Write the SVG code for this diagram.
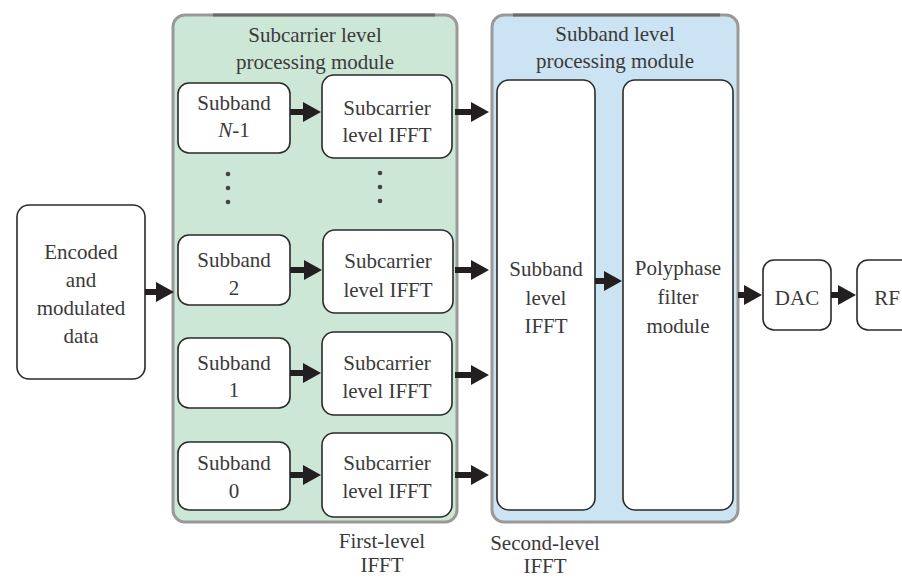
<svg xmlns="http://www.w3.org/2000/svg" width="902" height="578" viewBox="0 0 902 578">
<defs>
<marker id="ah" viewBox="0 0 18 20" refX="4" refY="10" markerWidth="18" markerHeight="20" markerUnits="userSpaceOnUse" orient="auto">
<path d="M0,0 L18,10 L0,20 z" fill="#231f20"/>
</marker>
</defs>
<style>
text{font-family:"Liberation Serif",serif;font-size:21px;fill:#3a3a3a;text-anchor:middle}
.box{fill:#fff;stroke:#2a2a2a;stroke-width:1.6}
.panel{stroke:#999;stroke-width:3}
.strip{stroke:#6a6a6a;stroke-width:3}
.arr{stroke:#231f20;stroke-width:6;fill:none;marker-end:url(#ah)}
.dot{fill:#444}
</style>
<rect width="902" height="578" fill="#fff"/>

<g id="panel-subcarrier">
<rect class="panel" x="173" y="15" width="284" height="507" rx="12" fill="#cde7d7"/>
<line class="strip" x1="213" y1="15" x2="435" y2="15"/>
<text x="315" y="42">Subcarrier level</text>
<text x="315" y="69">processing module</text>
</g>
<g id="panel-subband">
<rect class="panel" x="492" y="15" width="246" height="507" rx="12" fill="#cce3f3"/>
<line class="strip" x1="513" y1="15" x2="720" y2="15"/>
<text x="615" y="41">Subband level</text>
<text x="615" y="68">processing module</text>
</g>

<g id="encoded">
<rect class="box" x="17" y="205" width="128" height="174" rx="12"/>
<text x="81" y="259">Encoded</text>
<text x="81" y="287">and</text>
<text x="81" y="315">modulated</text>
<text x="81" y="343">data</text>
</g>

<g id="subband-n1">
<rect class="box" x="178" y="83" width="112" height="70" rx="11"/>
<text x="234" y="110">Subband</text>
<text x="234" y="137"><tspan font-style="italic">N</tspan>-1</text>
</g>
<g id="ifft-n1">
<rect class="box" x="322" y="75" width="130" height="83" rx="12"/>
<text x="387" y="115">Subcarrier</text>
<text x="387" y="142">level IFFT</text>
</g>

<g id="dots">
<circle class="dot" cx="228" cy="174" r="2.3"/>
<circle class="dot" cx="228" cy="188" r="2.3"/>
<circle class="dot" cx="228" cy="202" r="2.3"/>
<circle class="dot" cx="380" cy="173" r="2.3"/>
<circle class="dot" cx="380" cy="187" r="2.3"/>
<circle class="dot" cx="380" cy="201" r="2.3"/>
</g>

<g id="subband-2">
<rect class="box" x="178" y="235" width="112" height="70" rx="11"/>
<text x="234" y="267">Subband</text>
<text x="234" y="295">2</text>
</g>
<g id="ifft-2">
<rect class="box" x="323" y="230" width="130" height="83" rx="12"/>
<text x="388" y="268">Subcarrier</text>
<text x="388" y="297">level IFFT</text>
</g>

<g id="subband-1">
<rect class="box" x="178" y="338" width="112" height="70" rx="11"/>
<text x="234" y="370">Subband</text>
<text x="234" y="397">1</text>
</g>
<g id="ifft-1">
<rect class="box" x="322" y="332" width="130" height="83" rx="12"/>
<text x="387" y="370">Subcarrier</text>
<text x="387" y="398">level IFFT</text>
</g>

<g id="subband-0">
<rect class="box" x="178" y="442" width="112" height="68" rx="11"/>
<text x="234" y="470">Subband</text>
<text x="234" y="498">0</text>
</g>
<g id="ifft-0">
<rect class="box" x="322" y="433" width="130" height="84" rx="12"/>
<text x="387" y="470">Subcarrier</text>
<text x="387" y="498">level IFFT</text>
</g>

<g id="subband-ifft">
<rect class="box" x="497" y="80" width="98" height="430" rx="12"/>
<text x="546" y="276">Subband</text>
<text x="546" y="305">level</text>
<text x="546" y="333">IFFT</text>
</g>
<g id="polyphase">
<rect class="box" x="623" y="80" width="110" height="430" rx="12"/>
<text x="678" y="275">Polyphase</text>
<text x="678" y="304">filter</text>
<text x="678" y="333">module</text>
</g>

<g id="dac">
<rect class="box" x="763" y="260" width="68" height="70" rx="11"/>
<text x="797" y="305">DAC</text>
</g>
<g id="rf">
<rect class="box" x="857" y="260" width="62" height="70" rx="11"/>
<text x="887" y="305">RF</text>
</g>

<g id="labels">
<text x="382" y="548">First-level</text>
<text x="382" y="572">IFFT</text>
<text x="545" y="550">Second-level</text>
<text x="545" y="573">IFFT</text>
</g>

<g id="connectors">
<line class="arr" x1="145" y1="292" x2="160" y2="292"/>
<line class="arr" x1="290" y1="112" x2="307" y2="112"/>
<line class="arr" x1="290" y1="270" x2="308" y2="270"/>
<line class="arr" x1="290" y1="373" x2="307" y2="373"/>
<line class="arr" x1="290" y1="475" x2="307" y2="475"/>
<line class="arr" x1="455" y1="112" x2="475" y2="112"/>
<line class="arr" x1="455" y1="270" x2="475" y2="270"/>
<line class="arr" x1="455" y1="375" x2="475" y2="375"/>
<line class="arr" x1="455" y1="475" x2="475" y2="475"/>
<line class="arr" x1="595" y1="281" x2="608" y2="281"/>
<line class="arr" x1="738" y1="295" x2="748" y2="295"/>
<line class="arr" x1="831" y1="295" x2="842" y2="295"/>
</g>
</svg>
